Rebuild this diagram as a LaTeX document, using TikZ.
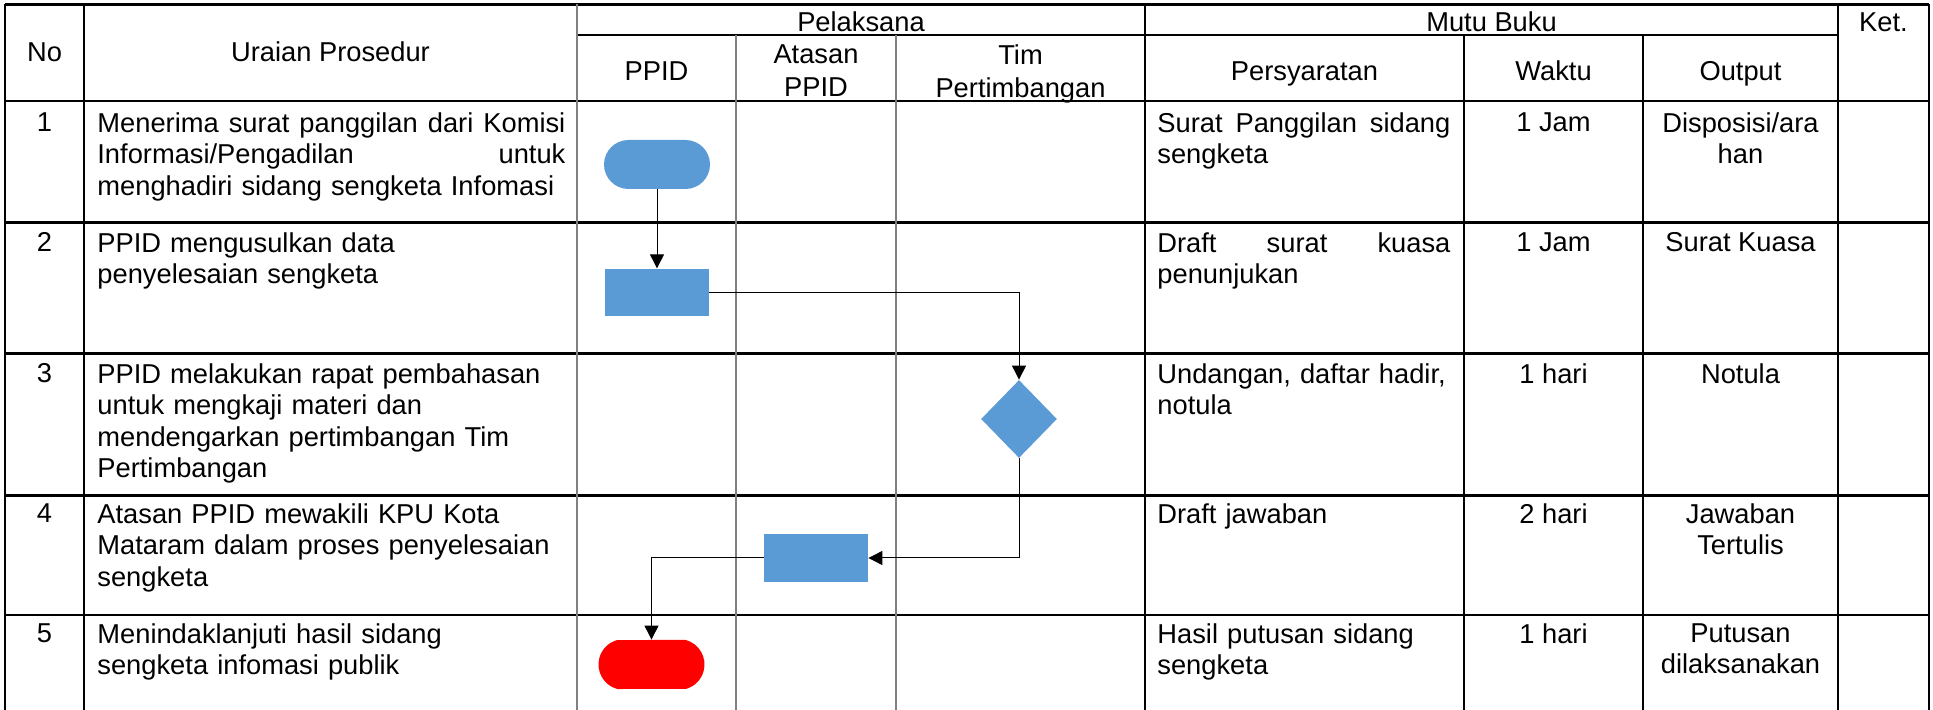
\documentclass[tikz,border=0pt]{standalone}
\usepackage{fontspec}
\setmainfont{Liberation Sans}
\usepackage{tikz}
\usetikzlibrary{arrows.meta,shapes.geometric,shapes.misc}

\definecolor{flowblue}{HTML}{5B9BD5}
\definecolor{lanegray}{HTML}{808080}
\newcommand{\tabfont}{\fontsize{13.65pt}{15.75pt}\selectfont}
\newcommand{\headfont}{\fontsize{13.65pt}{16.5pt}\selectfont}
\newcommand{\fillline}[2]{\makebox[#1][l]{#2}}

\tikzstyle{connector} = [line width=0.5pt,-{Triangle[length=7pt,width=7pt]}]
\tikzstyle{rowrule} = [line width=1.2pt]
\tikzstyle{colrule} = [line width=0.6pt]
\tikzstyle{lanerule} = [line width=0.6pt,draw=lanegray]
\tikzstyle{head} = [inner sep=0pt,anchor=base,font=\headfont]
\tikzstyle{headtwo} = [inner sep=0pt,anchor=north,align=center,font=\headfont]
\tikzstyle{cell} = [inner sep=0pt,anchor=north,align=center,font=\tabfont]
\tikzstyle{desc} = [inner sep=0pt,anchor=north west,text width=234pt,align=left,font=\tabfont]
\tikzstyle{req} = [inner sep=0pt,anchor=north west,text width=146.5pt,align=left,font=\tabfont]
\tikzstyle{terminator} = [rounded rectangle,fill=flowblue,minimum width=53pt,minimum height=24.5pt,inner sep=0pt]
\tikzstyle{process} = [rectangle,fill=flowblue,minimum width=52pt,minimum height=23.75pt,inner sep=0pt]
\tikzstyle{decision} = [diamond,fill=flowblue,minimum width=38pt,minimum height=39pt,inner sep=0pt]

\begin{document}
\begin{tikzpicture}[x=0.5pt,y=-0.5pt]
        \useasboundingbox (0,0) rectangle (1933,710);
        % grid of the table
        \draw [rowrule] (5,4.5) -- (1929,4.5);
        \draw [colrule] (577,35) -- (1838,35);
        \draw [colrule] (5,101) -- (1929,101);
        \foreach \y in {222.5,353.5,495.5,615} \draw [rowrule] (5,\y) -- (1929,\y);
        \foreach \x in {5,84,1145,1838,1929} \draw [colrule] (\x,4.5) -- (\x,710);
        \foreach \x in {1464,1643} \draw [colrule] (\x,35) -- (\x,710);
        \draw [lanerule] (577,4.5) -- (577,710);
        \foreach \x in {736,896} \draw [lanerule] (\x,35) -- (\x,710);

        % header
        \node (no) [head] at (44.5,62) {No};
        \node (uraian) [head] at (330.5,62) {Uraian Prosedur};
        \node (pelaksana) [head] at (861,32) {Pelaksana};
        \node (mutu) [head] at (1491.5,32) {Mutu Buku};
        \node (ket) [head] at (1883.5,32) {Ket.};
        \node (ppid) [head] at (656.5,81) {PPID};
        \node (atasan) [headtwo] at (816,44) {Atasan\\PPID};
        \node (tim) [headtwo] at (1020.5,44) {Tim\\Pertimbangan};
        \node (syarat) [head] at (1304.5,81) {Persyaratan};
        \node (waktu) [head] at (1553.5,81) {Waktu};
        \node (output) [head] at (1740.5,81) {Output};

        % rows
        \node (no-1) [cell] at (44.5,112) {1};
        \node (uraian-1) [desc] at (97,112) {\fillline{234pt}{Menerima\hfill surat\hfill panggilan\hfill dari\hfill Komisi}\\\fillline{234pt}{Informasi/Pengadilan\hfill untuk}\\menghadiri sidang sengketa Infomasi};
        \node (syarat-1) [req] at (1157,112) {\fillline{146.5pt}{Surat\hfill Panggilan\hfill sidang}\\sengketa};
        \node (waktu-1) [cell] at (1553.5,112) {1 Jam};
        \node (output-1) [cell] at (1740.5,112) {Disposisi/ara\\han};

        \node (no-2) [cell] at (44.5,232) {2};
        \node (uraian-2) [desc] at (97,232) {PPID mengusulkan data\\penyelesaian sengketa};
        \node (syarat-2) [req] at (1157,232) {\fillline{146.5pt}{Draft\hfill surat\hfill kuasa}\\penunjukan};
        \node (waktu-2) [cell] at (1553.5,232) {1 Jam};
        \node (output-2) [cell] at (1740.5,232) {Surat Kuasa};

        \node (no-3) [cell] at (44.5,363) {3};
        \node (uraian-3) [desc] at (97,363) {PPID melakukan rapat pembahasan\\untuk mengkaji materi dan\\mendengarkan pertimbangan Tim\\Pertimbangan};
        \node (syarat-3) [req] at (1157,363) {Undangan, daftar hadir,\\notula};
        \node (waktu-3) [cell] at (1553.5,363) {1 hari};
        \node (output-3) [cell] at (1740.5,363) {Notula};

        \node (no-4) [cell] at (44.5,503) {4};
        \node (uraian-4) [desc] at (97,503) {Atasan PPID mewakili KPU Kota\\Mataram dalam proses penyelesaian\\sengketa};
        \node (syarat-4) [req] at (1157,503) {Draft jawaban};
        \node (waktu-4) [cell] at (1553.5,503) {2 hari};
        \node (output-4) [cell] at (1740.5,503) {Jawaban\\Tertulis};

        \node (no-5) [cell] at (44.5,623) {5};
        \node (uraian-5) [desc] at (97,623) {Menindaklanjuti hasil sidang\\sengketa infomasi publik};
        \node (syarat-5) [req] at (1157,623) {Hasil putusan sidang\\sengketa};
        \node (waktu-5) [cell] at (1553.5,623) {1 hari};
        \node (output-5) [cell] at (1740.5,623) {Putusan\\dilaksanakan};

        % flow
        \node (start) [terminator] at (657,164.5) {};
        \node (usul) [process] at (657,292.5) {};
        \node (rapat) [decision] at (1019,419) {};
        \node (wakil) [process] at (816,558) {};
        \node (selesai) [terminator,fill=red,rounded rectangle arc length=150] at (651.5,664.5) {};
        \draw [connector] (start) -- (usul);
        \draw [connector] (usul) -| (rapat);
        \draw [connector] (rapat) |- (wakil);
        \draw [connector] (wakil) -| (selesai);
    \end{tikzpicture}
\end{document}
